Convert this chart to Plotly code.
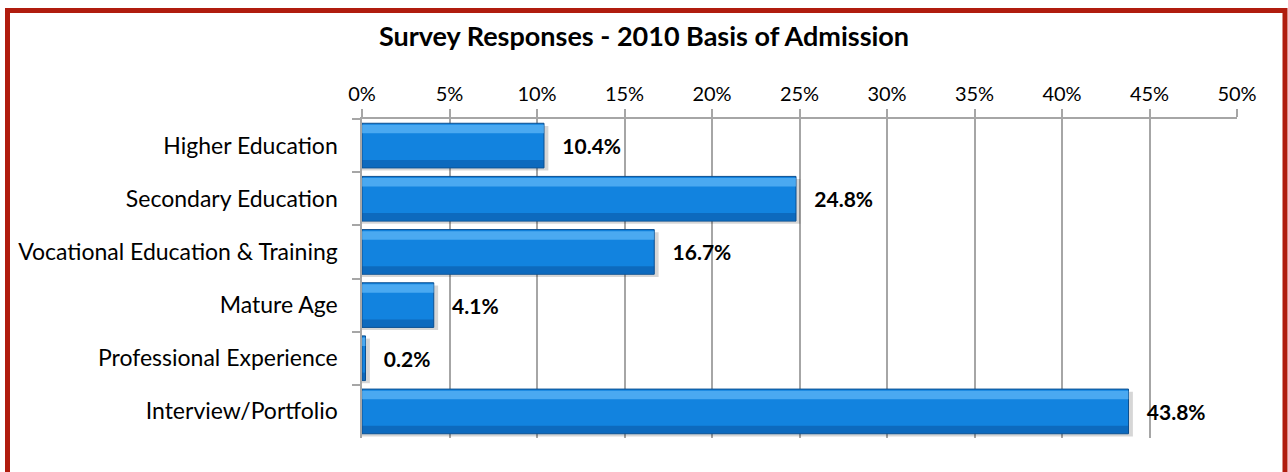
import plotly.graph_objects as go

categories = ["Higher Education", "Secondary Education", "Vocational Education & Training",
              "Mature Age", "Professional Experience", "Interview/Portfolio"]
values = [10.4, 24.8, 16.7, 4.1, 0.2, 43.8]
tick_vals = [0, 5, 10, 15, 20, 25, 30, 35, 40, 45, 50]
tick_text = [f"{v}%" for v in tick_vals]
title = "Survey Responses - 2010 Basis of Admission"

FONT = "Lato, Carlito, Calibri, sans-serif"
W = 0.84

fig = go.Figure()
# shadow
fig.add_trace(go.Bar(y=categories, x=[v + 0.25 for v in values], orientation="h",
                     width=W, offset=-W / 2 + 0.05,
                     marker=dict(color="rgba(0,0,0,0.16)", line=dict(width=0)),
                     hoverinfo="skip", showlegend=False))
# main bar
fig.add_trace(go.Bar(y=categories, x=values, orientation="h",
                     width=W, offset=-W / 2,
                     marker=dict(color="#1283df", line=dict(color="#0b4f90", width=1)),
                     text=[f"{v:.1f}%" for v in values], textposition="outside",
                     texttemplate="   %{text}",
                     textfont=dict(family=FONT, size=21, color="#000000", weight="bold"),
                     cliponaxis=False, showlegend=False))
# lower darker band
fig.add_trace(go.Bar(y=categories, x=values, orientation="h",
                     width=0.14, offset=W / 2 - 0.15,
                     marker=dict(color="rgba(8,70,140,0.4)", line=dict(width=0)),
                     hoverinfo="skip", showlegend=False))
# upper highlight
fig.add_trace(go.Bar(y=categories, x=values, orientation="h",
                     width=0.16, offset=-W / 2 + 0.03,
                     marker=dict(color="rgba(120,200,255,0.55)", line=dict(width=0)),
                     hoverinfo="skip", showlegend=False))

fig.update_layout(
    width=1288, height=472,
    margin=dict(l=362, r=51, t=119, b=34),
    paper_bgcolor="white", plot_bgcolor="white",
    barmode="overlay",
    title=dict(text=f"<b>{title}</b>", x=0.5, xref="container", xanchor="center",
               y=1 - 37 / 472, yref="container", yanchor="middle",
               font=dict(family=FONT, size=27, color="#000000")),
    xaxis=dict(side="top", range=[0, 50], tickvals=tick_vals, ticktext=tick_text,
               showgrid=True, gridcolor="#a6a6a6", gridwidth=2,
               showline=True, linecolor="#a6a6a6", linewidth=2,
               ticks="outside", ticklen=8, tickcolor="#a6a6a6", tickwidth=2,
               tickfont=dict(family=FONT, size=20, color="#000000"),
               zeroline=False, fixedrange=True),
    yaxis=dict(autorange="reversed", type="category", tickson="boundaries",
               showline=True, linecolor="#a6a6a6", linewidth=2,
               ticks="outside", ticklen=8, tickcolor="#a6a6a6", tickwidth=2,
               showgrid=False, ticksuffix="   ",
               tickfont=dict(family=FONT, size=23, color="#000000"), fixedrange=True),
    shapes=[dict(type="rect", xref="paper", yref="paper",
                 x0=(7.5 - 362) / 875, x1=(1285 - 362) / 875,
                 y0=(438 - 490) / 319, y1=(438 - 10.5) / 319,
                 line=dict(color="#b01c0e", width=5), fillcolor="rgba(0,0,0,0)",
                 layer="above")],
)

fig.write_html("out.html")
